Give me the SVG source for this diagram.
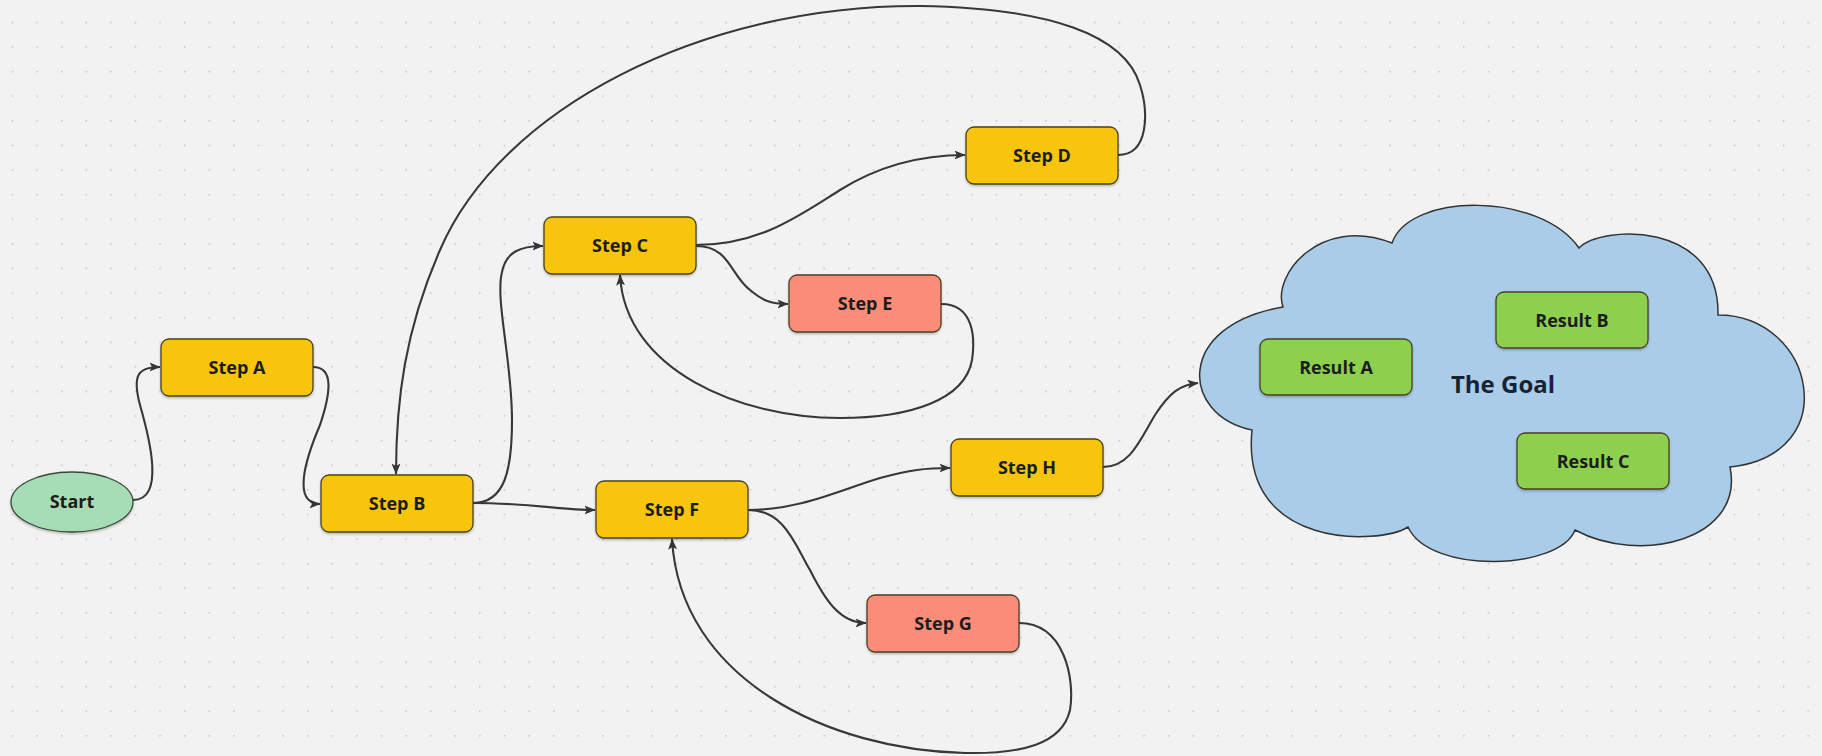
<svg xmlns="http://www.w3.org/2000/svg" width="1822" height="756" viewBox="0 0 1822 756">
<defs>
<pattern id="dots" x="11.7" y="21.7" width="24.6" height="24.6" patternUnits="userSpaceOnUse">
<circle cx="0.5" cy="0.5" r="1.1" fill="#c2c2c2"/>
</pattern>
<marker id="arr" viewBox="0 0 11 10" refX="10.5" refY="5" markerWidth="11" markerHeight="10" markerUnits="userSpaceOnUse" orient="auto">
<path d="M0,0.5 L11,5 L0,9.5 L2.5,5 z" fill="#353535"/>
</marker>
<filter id="sh" x="-10%" y="-10%" width="120%" height="130%">
<feDropShadow dx="0" dy="1.5" stdDeviation="1" flood-color="#000" flood-opacity="0.25"/>
</filter>
</defs>
<style>
.bg{fill:#f2f2f2}
.box{stroke:#4a4020;stroke-width:1.3;filter:url(#sh)}
.y{fill:#f8c511}
.r{fill:#fa8c79}
.g{fill:#8dd04d}
.lbl{font-family:"Open Sans","Noto Sans","Liberation Sans",sans-serif;font-weight:bold;font-size:18px;fill:#1c1c1c;text-anchor:middle}
.big{font-size:24px;fill:#1a2230}
.edge{fill:none;stroke:#383838;stroke-width:2.1;marker-end:url(#arr)}
</style>
<rect class="bg" width="1822" height="756"/>
<rect width="1822" height="756" fill="url(#dots)"/>

<g id="connectors">
<path class="edge" d="M133 500 C165 500 150 440 140 405 C132 375 138 367 160 367"/>
<path class="edge" d="M313 367 C335 367 330 395 320 425 C305 460 292 504 320 504"/>
<path class="edge" d="M473 503 C505 503 512 470 512 420 C512 360 495 300 502 272 C506 252 520 246 543 246"/>
<path class="edge" d="M473 503 C530 503 560 510 595 510"/>
<path class="edge" d="M1118 155 C1150 155 1148 110 1140 85 C1125 35 1050 8 920 6 C700 5 500 110 440 250 C405 330 396 400 396 474"/>
<path class="edge" d="M696 245 C760 245 800 215 840 190 C880 165 920 155 965 155"/>
<path class="edge" d="M696 246 C730 246 730 275 750 290 C762 300 770 304 788 304"/>
<path class="edge" d="M941 304 C975 304 975 340 972 360 C965 400 910 418 840 418 C740 418 625 370 620 275"/>
<path class="edge" d="M748 510 C800 510 840 490 880 478 C910 470 925 468 950 468"/>
<path class="edge" d="M748 510 C785 510 795 545 810 570 C825 600 840 623 866 623"/>
<path class="edge" d="M1019 623 C1065 623 1075 680 1070 710 C1062 745 1020 754 965 753 C830 750 680 680 672 539"/>
<path class="edge" d="M1103 467 C1130 467 1140 440 1155 415 C1170 392 1180 385 1198 383"/>
</g>

<g id="start">
<ellipse cx="72" cy="502" rx="61" ry="30" fill="#a7ddb6" stroke="#3a4a3a" stroke-width="1.3" filter="url(#sh)"/>
<text class="lbl" x="72" y="508">Start</text>
</g>
<g id="stepA"><rect class="box y" x="161" y="339" width="152" height="57" rx="8"/><text class="lbl" x="237" y="374">Step A</text></g>
<g id="stepB"><rect class="box y" x="321" y="475" width="152" height="57" rx="8"/><text class="lbl" x="397" y="510">Step B</text></g>
<g id="stepC"><rect class="box y" x="544" y="217" width="152" height="57" rx="8"/><text class="lbl" x="620" y="252">Step C</text></g>
<g id="stepD"><rect class="box y" x="966" y="127" width="152" height="57" rx="8"/><text class="lbl" x="1042" y="162">Step D</text></g>
<g id="stepE"><rect class="box r" x="789" y="275" width="152" height="57" rx="8"/><text class="lbl" x="865" y="310">Step E</text></g>
<g id="stepF"><rect class="box y" x="596" y="481" width="152" height="57" rx="8"/><text class="lbl" x="672" y="516">Step F</text></g>
<g id="stepG"><rect class="box r" x="867" y="595" width="152" height="57" rx="8"/><text class="lbl" x="943" y="630">Step G</text></g>
<g id="stepH"><rect class="box y" x="951" y="439" width="152" height="57" rx="8"/><text class="lbl" x="1027" y="474">Step H</text></g>

<g id="goal">
<path d="M1252 430 C1180 415 1175 325 1283 307 C1272 275 1320 215 1392 243 C1410 192 1540 192 1579 248 C1600 225 1720 220 1718 315 C1815 315 1845 455 1730 467 C1745 540 1640 565 1575 530 C1560 570 1430 575 1408 527 C1380 545 1240 550 1252 430 Z" fill="#a9cce9" stroke="#333" stroke-width="1.5"/>
<text class="lbl big" x="1503" y="393">The Goal</text>
</g>
<g id="resultA"><rect class="box g" x="1260" y="339" width="152" height="56" rx="8"/><text class="lbl" x="1336" y="374">Result A</text></g>
<g id="resultB"><rect class="box g" x="1496" y="292" width="152" height="56" rx="8"/><text class="lbl" x="1572" y="327">Result B</text></g>
<g id="resultC"><rect class="box g" x="1517" y="433" width="152" height="56" rx="8"/><text class="lbl" x="1593" y="468">Result C</text></g>
</svg>
